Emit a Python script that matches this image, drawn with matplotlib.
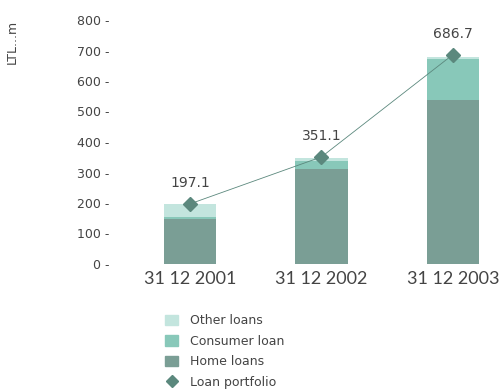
import numpy as np
import matplotlib.pyplot as plt
from matplotlib.lines import Line2D
from matplotlib.patches import Patch

# loan portfolio structure, LTL millions
dates = ['31 12 2001', '31 12 2002', '31 12 2003']
home_loans = np.array([147.0, 311.0, 538.0])
consumer_loan = np.array([8.0, 27.0, 134.0])
other_loans = np.array([42.0, 10.0, 8.0])
portfolio = np.array([197.1, 351.1, 686.7])
yticks = [0, 100, 200, 300, 400, 500, 600, 700, 800]

c_home = '#7a9e95'
c_cons = '#88c8b9'
c_other = '#c3e5de'
c_port = '#5b887d'
txt = '#444444'

plt.rcParams['font.family'] = ['DejaVu Sans']

fig = plt.figure(figsize=(4.99, 3.89), dpi=100)
ax = fig.add_axes([115 / 499, 125 / 389, 384 / 499, 244 / 389])

x = np.arange(len(dates))
w = 0.4
ax.bar(x, home_loans, w, color=c_home, zorder=2)
ax.bar(x, consumer_loan, w, bottom=home_loans, color=c_cons, zorder=2)
ax.bar(x, other_loans, w, bottom=home_loans + consumer_loan, color=c_other, zorder=2)

ax.plot(x, portfolio, color=c_port, lw=0.6, zorder=3)
ax.plot(x, portfolio, ls='', marker='D', ms=7, color=c_port, zorder=4)
for xi, v in zip(x, portfolio):
    ax.annotate(f'{v:.1f}', (xi, v), xytext=(0, 15), textcoords='offset points',
                ha='center', va='center', fontsize=10, color=txt)

ax.set_xlim(-0.57, 2.35)
ax.set_ylim(0, 800)
ax.set_yticks(yticks)
ax.set_yticklabels([f'{t} -' for t in yticks], fontsize=9, color=txt)
ax.set_xticks(x)
ax.set_xticklabels(dates, fontsize=13, color=txt, family='Lato')
ax.tick_params(length=0)
ax.tick_params(axis='y', pad=4)
ax.tick_params(axis='x', pad=5)
for s in ax.spines.values():
    s.set_visible(False)

fig.text(12 / 499, 1 - 42 / 389, 'LTL...m', rotation=90, ha='center', va='center',
         fontsize=9, color=txt)

handles = [Patch(color=c_other), Patch(color=c_cons), Patch(color=c_home),
           Line2D([], [], ls='', marker='D', ms=6, color=c_port)]
labels = ['Other loans', 'Consumer loan', 'Home loans', 'Loan portfolio']
fig.legend(handles, labels, loc='upper left', bbox_to_anchor=(159 / 499, 1 - 308 / 389),
           frameon=False, fontsize=9, labelcolor=txt, handlelength=1.0, handleheight=0.9,
           handletextpad=1.0, labelspacing=0.6, borderpad=0)

fig.savefig('out.png', dpi=100)
